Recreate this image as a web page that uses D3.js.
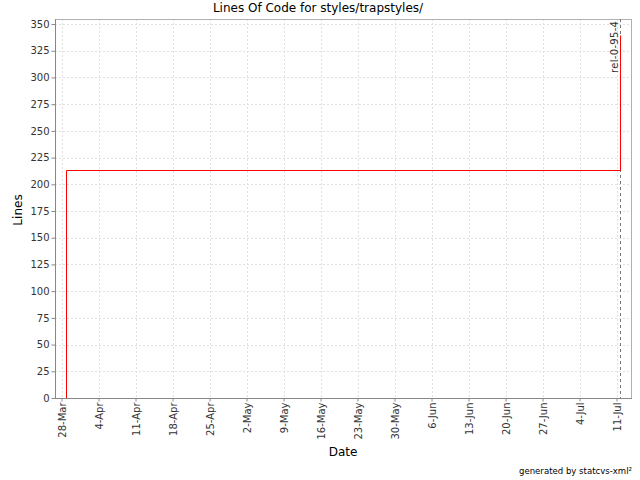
<!DOCTYPE html>
<html><head><meta charset="utf-8">
<script src="https://cdn.jsdelivr.net/npm/d3@7"></script>
<style>body{margin:0;background:#fff}svg{display:block}text{font-family:"DejaVu Sans",sans-serif}</style>
</head><body><svg id="c" width="640" height="480"></svg>
<script>
const title = "Lines Of Code for styles/trapstyles/";
const commitDates = ["2005-03-28T22:00", "2005-03-28T22:00", "2005-07-11T17:00"];
const linesOfCode = [0, 213, 340];
const tagDates = ["2005-07-11T17:00"];
const tagNames = ["rel-0-95-4"];
const xTickDates = ["2005-03-28","2005-04-04","2005-04-11","2005-04-18","2005-04-25","2005-05-02","2005-05-09","2005-05-16","2005-05-23","2005-05-30","2005-06-06","2005-06-13","2005-06-20","2005-06-27","2005-07-04","2005-07-11"];
const yTicks = d3.range(0, 351, 25);

const svg = d3.select("#c");
const L = 55, R = 632, T = 19, B = 398;
const parse = d3.timeParse("%Y-%m-%dT%H:%M");
const parseD = d3.timeParse("%Y-%m-%d");
const day = 86400000;
const t28 = parseD("2005-03-28").getTime();
const x = d3.scaleTime()
  .domain([new Date(t28 - 1.23*day), new Date(t28 + 107.93*day)])
  .range([L, R]);
const y = d3.scaleLinear().domain([0, 354.7]).range([B, T]);
const fmt = d3.timeFormat("%-d-%b");
const xt = xTickDates.map(parseD);

// grid
const g = svg.append("g");
g.selectAll("line.vx").data(xt).join("line")
  .attr("x1", d => Math.round(x(d))+0.5).attr("x2", d => Math.round(x(d))+0.5)
  .attr("y1", T).attr("y2", B)
  .attr("stroke", "#e0e0e0").attr("stroke-dasharray", "2,2");
g.selectAll("line.hy").data(yTicks).join("line")
  .attr("x1", L).attr("x2", R)
  .attr("y1", d => Math.round(y(d))+0.5).attr("y2", d => Math.round(y(d))+0.5)
  .attr("stroke", "#e0e0e0").attr("stroke-dasharray", "2,2");

// plot border
svg.append("rect").attr("x", L+0.5).attr("y", T+0.5).attr("width", R-L-1).attr("height", B-T)
  .attr("fill", "none").attr("stroke", "#b0b0b0");

// tag markers
const tags = tagDates.map((d,i) => ({t: parse(d), name: tagNames[i]}));
svg.selectAll("line.tag").data(tags).join("line")
  .attr("x1", d => Math.round(x(d.t))+0.5).attr("x2", d => Math.round(x(d.t))+0.5)
  .attr("y1", T).attr("y2", B)
  .attr("stroke", "#777").attr("stroke-width", 1).attr("stroke-dasharray", "3,3");

// line
const pts = commitDates.map((d,i) => [parse(d), linesOfCode[i]]);
const line = d3.line().x(d => Math.round(x(d[0]))+0.5).y(d => Math.round(y(d[1]))+0.5).curve(d3.curveStepAfter);
svg.append("path").attr("d", line(pts)).attr("fill", "none").attr("stroke", "#ff0000").attr("stroke-width", 1);

// tag labels
svg.selectAll("text.tag").data(tags).join("text")
  .attr("transform", d => `translate(${Math.round(x(d.t))-2},${T+2}) rotate(-90)`)
  .attr("text-anchor", "end").attr("font-size", 10).attr("fill", "#333")
  .attr("textLength", 52).attr("lengthAdjust", "spacing")
  .text(d => d.name);

// axes
const ya = svg.append("g").attr("transform", `translate(${L+0.5},0)`)
  .call(d3.axisLeft(y).tickValues(yTicks).tickSize(4).tickPadding(2).tickSizeOuter(0));
ya.select(".domain").attr("stroke", "#888").attr("d", `M0,${T}V${B}`);
ya.selectAll(".tick line").attr("stroke", "#888");
ya.selectAll(".tick text").attr("font-size", 10).attr("fill", "#333").attr("font-family", "DejaVu Sans");

const xa = svg.append("g").attr("transform", `translate(0,${B+0.5})`)
  .call(d3.axisBottom(x).tickValues(xt).tickFormat(fmt).tickSize(3).tickSizeOuter(0));
xa.select(".domain").attr("stroke", "#888").attr("d", `M${L},0H${R}`);
xa.selectAll(".tick line").attr("stroke", "#888");
xa.selectAll(".tick text").attr("font-size", 10).attr("fill", "#333").attr("font-family", "DejaVu Sans")
  .attr("transform", "rotate(-90)").attr("text-anchor", "end").attr("x", -4).attr("y", 0).attr("dy", "0.35em");

// titles
svg.append("text").attr("x", 318).attr("y", 12).attr("text-anchor", "middle").attr("font-size", 12).attr("fill", "#000").text(title);
svg.append("text").attr("transform", "translate(22,210) rotate(-90)").attr("text-anchor", "middle").attr("font-size", 12).attr("fill", "#000").text("Lines");
svg.append("text").attr("x", 343).attr("y", 456).attr("text-anchor", "middle").attr("font-size", 12).attr("fill", "#000").text("Date");
svg.append("text").attr("x", 632).attr("y", 474).attr("text-anchor", "end").attr("font-size", 9).attr("fill", "#000")
  .attr("textLength", 113).attr("lengthAdjust", "spacingAndGlyphs").text("generated by statcvs-xml²");
</script></body></html>
